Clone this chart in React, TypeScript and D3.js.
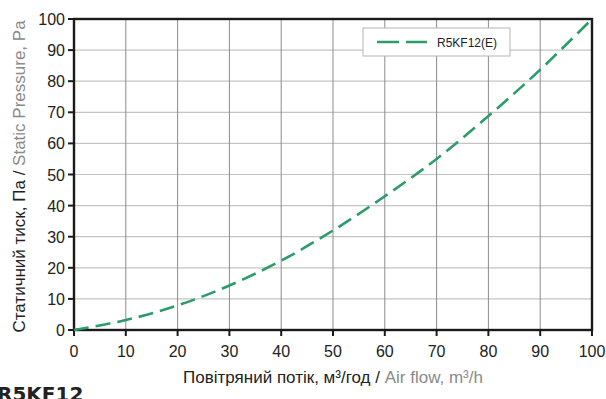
import React from "react";
import * as d3 from "d3";

const airFlow = [0, 10, 20, 30, 40, 50, 60, 70, 80, 90, 100];
const pressure = [0, 3.2, 7.9, 14.3, 22.3, 32, 43, 55, 68.8, 83.7, 100];
const xTicks = [0, 10, 20, 30, 40, 50, 60, 70, 80, 90, 100];
const yTicks = [0, 10, 20, 30, 40, 50, 60, 70, 80, 90, 100];
const seriesName = "R5KF12(E)";
const title = "R5KF12";

const W = 606, H = 399;
const L = 74, R = 592, T = 19, B = 330;
const GREEN = "#2a9d68";
const FONT = "'Liberation Sans', Arial, sans-serif";

export default function App() {
  const x = d3.scaleLinear().domain([0, 100]).range([L, R]);
  const y = d3.scaleLinear().domain([0, 100]).range([B, T]);
  const line = d3.line<number>().x((_, i) => x(airFlow[i])).y((d) => y(d)).curve(d3.curveCatmullRom.alpha(0.5));
  return (
    <svg width={W} height={H} style={{ position: "absolute", left: 0, top: 0, background: "#fff" }}>
      {yTicks.slice(1, -1).map((t) => (
        <line key={"h" + t} x1={L} x2={R} y1={y(t)} y2={y(t)} stroke="#c4c4c4" strokeWidth={1.2} />
      ))}
      {xTicks.slice(1, -1).map((t) => (
        <line key={"v" + t} x1={x(t)} x2={x(t)} y1={T} y2={B} stroke="#8c8c8c" strokeWidth={1} />
      ))}
      <rect x={L} y={T} width={R - L} height={B - T} fill="none" stroke="#1a1a1a" strokeWidth={2.4} />
      {yTicks.map((t) => (
        <g key={"yt" + t}>
          <line x1={L - 6} x2={L} y1={y(t)} y2={y(t)} stroke="#1a1a1a" strokeWidth={2} />
          <text x={L - 9} y={y(t) + 6} textAnchor="end" fontFamily={FONT} fontSize={16} fill="#222">{t}</text>
        </g>
      ))}
      {xTicks.map((t) => (
        <g key={"xt" + t}>
          <line x1={x(t)} x2={x(t)} y1={B} y2={B + 6} stroke="#1a1a1a" strokeWidth={2} />
          <text x={x(t)} y={B + 27} textAnchor="middle" fontFamily={FONT} fontSize={16} fill="#222">{t}</text>
        </g>
      ))}
      <path d={line(pressure) || ""} fill="none" stroke={GREEN} strokeWidth={2.6} strokeDasharray="15 7" />
      <rect x={363} y={28} width={147} height={28} fill="#fff" stroke="#b5b5b5" strokeWidth={1} />
      <line x1={377} x2={427} y1={42} y2={42} stroke={GREEN} strokeWidth={2.6} strokeDasharray="22 7" />
      <text x={437} y={46.5} fontFamily={FONT} fontSize={12} fill="#222">{seriesName}</text>
      <text transform={`translate(25,${(T + B) / 2 + 2}) rotate(-90)`} textAnchor="middle" fontFamily={FONT} fontSize={17}>
        <tspan fill="#222">Статичний тиск, Па / </tspan>
        <tspan fill="#8a8a8a">Static Pressure, Pa</tspan>
      </text>
      <text x={(L + R) / 2} y={383} textAnchor="middle" fontFamily={FONT} fontSize={17}>
        <tspan fill="#222">Повітряний потік, м³/год / </tspan>
        <tspan fill="#8a8a8a">Air flow, m³/h</tspan>
      </text>
      <text x={-3} y={401} fontFamily="'DejaVu Sans', Verdana, sans-serif" fontWeight="bold" fontSize={20} fill="#222">{title}</text>
    </svg>
  );
}
